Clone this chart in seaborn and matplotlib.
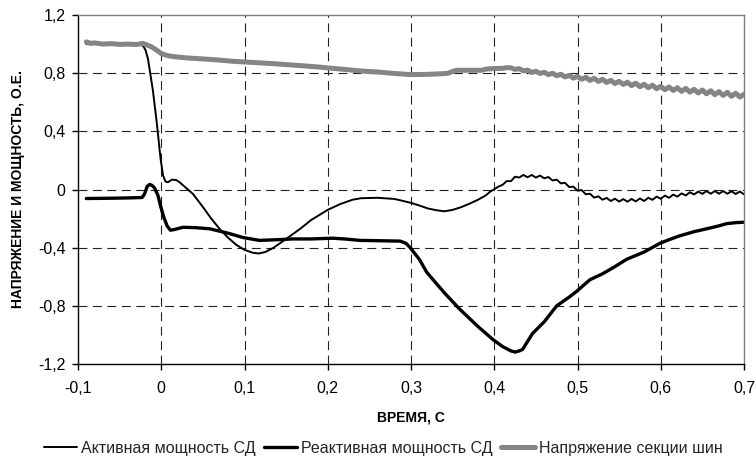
import matplotlib
matplotlib.use("Agg")
import matplotlib.pyplot as plt
import seaborn as sns
import numpy as np

# ---------------- data ----------------
x_ticks = [-0.1, 0.0, 0.1, 0.2, 0.3, 0.4, 0.5, 0.6, 0.7]
x_tick_labels = ["-0,1", "0", "0,1", "0,2", "0,3", "0,4", "0,5", "0,6", "0,7"]
y_ticks = [-1.2, -0.8, -0.4, 0.0, 0.4, 0.8, 1.2]
y_tick_labels = ["-1,2", "-0,8", "-0,4", "0", "0,4", "0,8", "1,2"]

series_names = ["Активная мощность СД", "Реактивная мощность СД", "Напряжение секции шин"]
x_label = "ВРЕМЯ, С"
y_label = "НАПРЯЖЕНИЕ И МОЩНОСТЬ, О.Е."

# Active power (thin black)
active_t = [-0.09, -0.03, -0.022, -0.019, -0.016, -0.01, -0.005, -0.001, 0.002, 0.005,
            0.008, 0.013, 0.018, 0.022, 0.03, 0.038, 0.05, 0.06, 0.07, 0.08,
            0.09, 0.10, 0.11, 0.117, 0.125, 0.135, 0.15, 0.167, 0.18, 0.20,
            0.215, 0.23, 0.24, 0.26, 0.28, 0.29, 0.30, 0.31, 0.32, 0.33,
            0.34, 0.35, 0.36, 0.37, 0.38, 0.39, 0.395, 0.40, 0.405, 0.41,
            0.415, 0.42, 0.425, 0.43, 0.435, 0.44, 0.445, 0.45, 0.455, 0.46,
            0.465, 0.47, 0.475, 0.48, 0.485, 0.49, 0.495, 0.50, 0.505, 0.51,
            0.515, 0.52, 0.525, 0.53, 0.535, 0.54, 0.545, 0.55, 0.555, 0.56,
            0.565, 0.57, 0.575, 0.58, 0.585, 0.59, 0.595, 0.60, 0.605, 0.61,
            0.615, 0.62, 0.625, 0.63, 0.635, 0.64, 0.645, 0.65, 0.655, 0.66,
            0.665, 0.67, 0.675, 0.68, 0.685, 0.69, 0.695, 0.70]
active_v = [1.0, 1.0, 0.99, 0.96, 0.90, 0.68, 0.44, 0.22, 0.10, 0.055,
            0.05, 0.068, 0.065, 0.05, 0.01, -0.03, -0.12, -0.2, -0.27, -0.33,
            -0.38, -0.415, -0.435, -0.44, -0.43, -0.40, -0.34, -0.27, -0.21, -0.14,
            -0.10, -0.07, -0.06, -0.057, -0.065, -0.078, -0.092, -0.11, -0.13, -0.142,
            -0.15, -0.14, -0.122, -0.098, -0.072, -0.04, -0.015, 0.002, 0.02, 0.032,
            0.058, 0.057, 0.088, 0.082, 0.100, 0.084, 0.100, 0.082, 0.096, 0.077,
            0.086, 0.062, 0.068, 0.042, 0.046, 0.017, 0.020, -0.008, -0.004, -0.033,
            -0.029, -0.056, -0.047, -0.070, -0.058, -0.079, -0.063, -0.083, -0.066, -0.084,
            -0.065, -0.082, -0.062, -0.079, -0.057, -0.071, -0.049, -0.064, -0.042, -0.057,
            -0.035, -0.049, -0.027, -0.041, -0.019, -0.034, -0.014, -0.030, -0.011, -0.029,
            -0.011, -0.029, -0.011, -0.029, -0.012, -0.031, -0.014, -0.033]

# Reactive power (thick black)
reactive_t = [-0.09, -0.06, -0.04, -0.023, -0.02, -0.017, -0.014, -0.011, -0.008, -0.004,
              -0.001, 0.003, 0.007, 0.011, 0.016, 0.026, 0.04, 0.058, 0.08, 0.098,
              0.118, 0.14, 0.158, 0.18, 0.206, 0.22, 0.239, 0.26, 0.287, 0.294,
              0.299, 0.31, 0.319, 0.34, 0.358, 0.38, 0.398, 0.41, 0.42, 0.425,
              0.43, 0.434, 0.446, 0.46, 0.475, 0.49, 0.499, 0.515, 0.53, 0.545,
              0.559, 0.58, 0.599, 0.61, 0.622, 0.64, 0.659, 0.67, 0.679, 0.69, 0.70]
reactive_v = [-0.062, -0.06, -0.058, -0.055, -0.03, 0.02, 0.035, 0.028, 0.01, -0.04,
              -0.11, -0.19, -0.25, -0.28, -0.275, -0.26, -0.262, -0.27, -0.30, -0.33,
              -0.35, -0.345, -0.34, -0.34, -0.335, -0.34, -0.35, -0.352, -0.355, -0.37,
              -0.40, -0.48, -0.57, -0.71, -0.82, -0.94, -1.03, -1.08, -1.11, -1.118,
              -1.11, -1.10, -0.99, -0.91, -0.80, -0.74, -0.70, -0.62, -0.58, -0.53,
              -0.48, -0.43, -0.37, -0.345, -0.32, -0.29, -0.265, -0.25, -0.235, -0.228, -0.225]

# Bus section voltage (thick gray)
voltage_t = [-0.09, -0.085, -0.08, -0.07, -0.06, -0.05, -0.04, -0.03, -0.022, -0.018,
             -0.013, -0.008, -0.003, 0.0, 0.005, 0.01, 0.018, 0.03, 0.05, 0.07,
             0.085, 0.10, 0.13, 0.16, 0.19, 0.20, 0.22, 0.24, 0.26, 0.28,
             0.30, 0.32, 0.34, 0.345, 0.35, 0.355, 0.37, 0.385, 0.39, 0.40,
             0.41, 0.415,
             0.42, 0.425, 0.43, 0.435, 0.44, 0.445, 0.45, 0.455, 0.46, 0.465,
             0.47, 0.475, 0.48, 0.485, 0.49, 0.495, 0.50, 0.505, 0.51, 0.515,
             0.52, 0.525, 0.53, 0.535, 0.54, 0.545, 0.55, 0.555, 0.56, 0.565,
             0.57, 0.575, 0.58, 0.585, 0.59, 0.595, 0.60, 0.605, 0.61, 0.615,
             0.62, 0.625, 0.63, 0.635, 0.64, 0.645, 0.65, 0.655, 0.66, 0.665,
             0.67, 0.675, 0.68, 0.685, 0.69, 0.695, 0.70]
voltage_v = [1.015, 1.005, 1.008, 1.0, 1.003, 0.998, 1.0, 0.997, 1.005, 0.995,
             0.985, 0.968, 0.948, 0.935, 0.925, 0.918, 0.912, 0.905, 0.898, 0.89,
             0.882, 0.877, 0.867, 0.855, 0.842, 0.836, 0.826, 0.815, 0.808, 0.798,
             0.79, 0.792, 0.797, 0.80, 0.812, 0.82, 0.82, 0.82, 0.828, 0.832,
             0.833, 0.838,
             0.837, 0.826, 0.831, 0.816, 0.821, 0.805, 0.813, 0.798, 0.806, 0.790,
             0.799, 0.782, 0.792, 0.774, 0.785, 0.766, 0.778, 0.758, 0.772, 0.750,
             0.765, 0.743, 0.758, 0.736, 0.751, 0.729, 0.744, 0.722, 0.738, 0.714,
             0.731, 0.707, 0.724, 0.700, 0.717, 0.693, 0.710, 0.686, 0.705, 0.681,
             0.700, 0.675, 0.695, 0.670, 0.689, 0.664, 0.684, 0.658, 0.679, 0.652,
             0.673, 0.647, 0.668, 0.641, 0.662, 0.636, 0.655]

# ---------------- style ----------------
sns.set_theme(style="white")
plt.rcParams["font.family"] = ["Liberation Sans", "DejaVu Sans"]

fig = plt.figure(figsize=(7.55, 4.59), dpi=100)
ax = fig.add_axes([78 / 755, 1 - 364 / 459, (744 - 78) / 755, (364 - 15) / 459])

sns.lineplot(x=active_t, y=active_v, ax=ax, sort=False, estimator=None,
             color="black", linewidth=1.4, label=series_names[0])
sns.lineplot(x=reactive_t, y=reactive_v, ax=ax, sort=False, estimator=None,
             color="black", linewidth=2.4, label=series_names[1])
sns.lineplot(x=voltage_t, y=voltage_v, ax=ax, sort=False, estimator=None,
             color="#858585", linewidth=3.6, label=series_names[2])

ax.set_xlim(-0.1, 0.7)
ax.set_ylim(-1.2, 1.2)
ax.set_xticks(x_ticks)
ax.set_xticklabels(x_tick_labels)
ax.set_yticks(y_ticks)
ax.set_yticklabels(y_tick_labels)

ax.grid(True, color="#222222", linestyle=(0, (8, 5)), linewidth=0.8)
ax.set_axisbelow(True)
fig.canvas.draw()
for gl in (ax.xaxis.get_gridlines()[0], ax.xaxis.get_gridlines()[-1],
           ax.yaxis.get_gridlines()[0], ax.yaxis.get_gridlines()[-1]):
    gl.set_visible(False)

for side in ("left", "bottom"):
    ax.spines[side].set_color("black")
    ax.spines[side].set_linewidth(1.0)
for side in ("top", "right"):
    ax.spines[side].set_color("#808080")
    ax.spines[side].set_linewidth(1.0)

ax.tick_params(axis="both", which="major", direction="out", length=4, width=1,
               color="black", labelsize=11.5, labelcolor="black", left=True, bottom=True)
ax.tick_params(axis="x", pad=8)
ax.tick_params(axis="y", pad=5)

ax.set_xlabel(x_label, fontsize=10, fontweight="bold", color="black")
ax.set_ylabel(y_label, fontsize=10, fontweight="bold", color="black")
ax.xaxis.label.set_va("center")
ax.yaxis.label.set_va("center")
ax.xaxis.set_label_coords(0.5, -(417 - 364) / 349)
ax.yaxis.set_label_coords(-(78 - 18) / 666, 0.5)

handles, labels = ax.get_legend_handles_labels()
ax.get_legend().remove()
fig.legend(handles, labels, loc="center", bbox_to_anchor=(383 / 755, 1 - 448 / 459),
           ncol=3, frameon=False, fontsize=11.5, handlelength=2.1, handletextpad=0.25,
           columnspacing=0.5, borderpad=0.1)

fig.savefig("out.png", dpi=100)
